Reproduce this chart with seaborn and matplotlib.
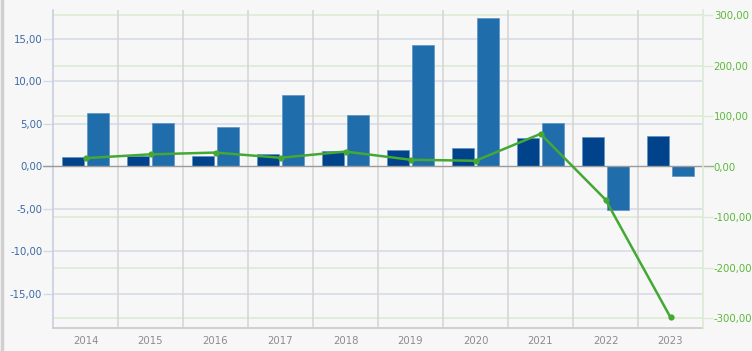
import numpy as np
import pandas as pd
import matplotlib
matplotlib.use("Agg")
import matplotlib.pyplot as plt
from matplotlib.ticker import FixedLocator, FuncFormatter
from matplotlib.transforms import blended_transform_factory
import seaborn as sns

# Data
years = ["2014", "2015", "2016", "2017", "2018", "2019", "2020", "2021", "2022", "2023"]
series_a = [1.10, 1.18, 1.26, 1.46, 1.82, 1.97, 2.17, 3.30, 3.42, 3.58]
series_b = [6.30, 5.08, 4.65, 8.43, 6.02, 14.25, 17.44, 5.08, -5.12, -1.10]
growth = [17.0, 24.5, 28.0, 17.7, 30.0, 13.8, 11.8, 65.0, -65.0, -298.0]
left_ticks = [-15, -10, -5, 0, 5, 10, 15]
right_ticks = [-300, -200, -100, 0, 100, 200, 300]

bg = "#f7f7f7"
dark_blue = "#00438a"
mid_blue = "#1f6dab"
line_green = "#43a834"
left_lab = "#3c6aa6"
right_lab = "#5cb83a"
grid_blue = "#d3d9e6"
grid_green = "#d9ecd1"
fs = 7.3
tick_len = 7.2  # points (about 10 px)

sns.set_theme(style="white")
plt.rcParams["font.family"] = ["DejaVu Sans"]

df = pd.DataFrame({
    "year": years * 2,
    "value": series_a + series_b,
    "series": ["a"] * len(years) + ["b"] * len(years),
})


def fmt(v, p):
    return f"{v:.2f}".replace(".", ",")


fig = plt.figure(figsize=(7.52, 3.51), dpi=100, facecolor=bg)
ax = fig.add_axes([53 / 752, 1 - 328 / 351, 650 / 752, 318 / 351])
ax.set_facecolor(bg)
ax2 = ax.twinx()
ax2.set_ylim(-319, 310)
ax.set_ylim(-19.0, 18.4)

sns.barplot(data=df, x="year", y="value", hue="series",
            palette=[dark_blue, mid_blue], saturation=1, width=0.76, gap=0.1,
            edgecolor="#5e93c6", linewidth=0.5, ax=ax, legend=False, zorder=3)

ax.set_xlim(-0.5, len(years) - 0.5)
ax.set_ylim(-19.0, 18.4)

# left axis ticks and grid
ax.yaxis.set_major_locator(FixedLocator(left_ticks))
ax.yaxis.set_major_formatter(FuncFormatter(fmt))
ax.tick_params(axis="y", which="major", length=tick_len, width=1, color=grid_blue,
               labelcolor=left_lab, labelsize=fs, pad=0.5)
for t in left_ticks:
    if t != 0:
        ax.axhline(t, color=grid_blue, lw=1.1, zorder=1)

# right-axis grid drawn behind the bars
rtrans = blended_transform_factory(ax.transAxes, ax2.transData)
for t in right_ticks:
    if t != 0:
        ax.plot([0, 1], [t, t], transform=rtrans, color=grid_green, lw=1.1, zorder=1)

# category boundaries
bounds = np.arange(len(years) + 1) - 0.5
ax.xaxis.set_minor_locator(FixedLocator(bounds))
ax.tick_params(axis="x", which="minor", length=tick_len, width=1, color="#d4d4d4")
ax.tick_params(axis="x", which="major", length=0, labelcolor="#8c8c8c",
               labelsize=fs, pad=6)
for b in bounds[1:-1]:
    ax.axvline(b, color="#d4d4d4", lw=1.1, zorder=1)
ax.set_xlabel("")
ax.set_ylabel("")

ax.spines["top"].set_visible(False)
ax.spines["left"].set_color("#c8d0e0")
ax.spines["bottom"].set_color("#cccccc")
ax.spines["right"].set_visible(False)

# right axis with the growth line
ax2.yaxis.set_major_locator(FixedLocator(right_ticks))
ax2.yaxis.set_major_formatter(FuncFormatter(fmt))
ax2.tick_params(axis="y", length=tick_len, width=1, color=grid_green,
                labelcolor=right_lab, labelsize=fs, pad=0.5)
ax2.spines["right"].set_color("#dcebd6")
for s in ["top", "left", "bottom"]:
    ax2.spines[s].set_visible(False)

sns.lineplot(x=np.arange(len(years)), y=growth, color=line_green, lw=1.8,
             marker="o", markersize=4.5, markeredgewidth=0, ax=ax2, zorder=5)
ax2.set_ylim(-319, 310)
ax2.set_ylabel("")

# zero baseline across the plot
ax.plot([-0.015, 1.015], [0, 0], transform=blended_transform_factory(ax.transAxes, ax.transData),
        color="#9a9a9a", lw=1.0, zorder=4, clip_on=False)
ax.set_zorder(0)
ax2.set_zorder(1)
ax2.patch.set_visible(False)

# thin frame on the left edge of the figure
fig.add_artist(plt.Line2D([2 / 752, 2 / 752], [0, 1], color="#d0d0d0", lw=2.5))

fig.savefig("out.png", dpi=100, facecolor=bg)
